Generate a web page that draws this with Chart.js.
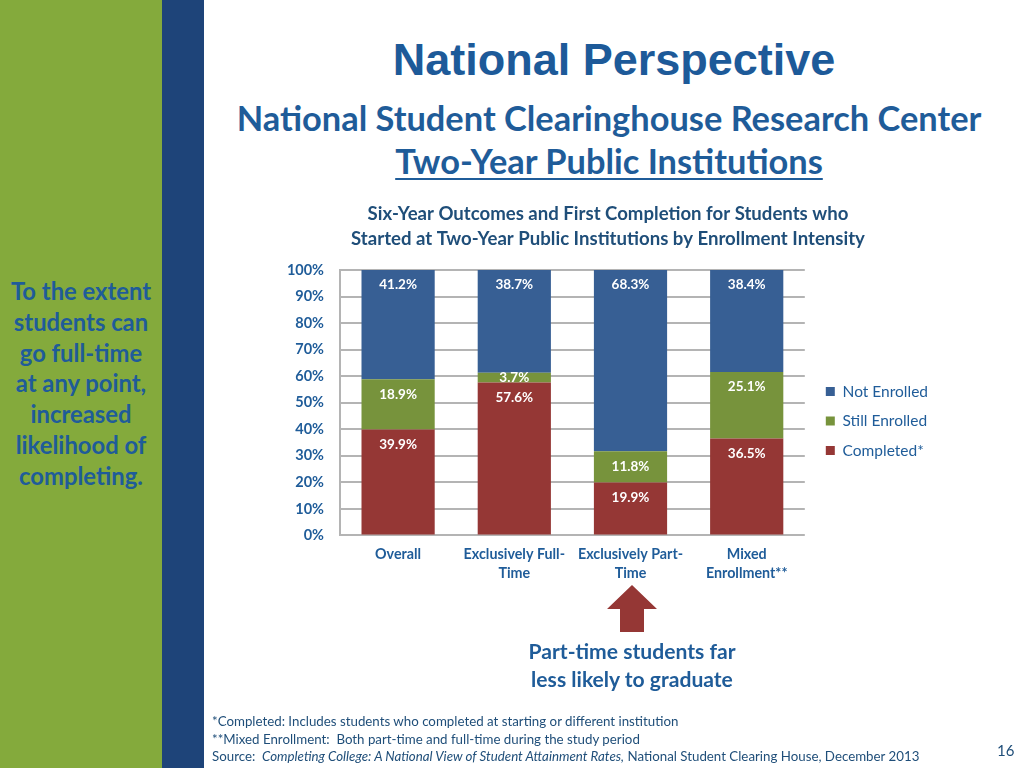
<!DOCTYPE html>
<html>
<head>
<meta charset="utf-8">
<script src="https://cdn.jsdelivr.net/npm/chart.js@4"></script>
<style>
  html, body { margin: 0; padding: 0; }
  body { width: 1024px; height: 768px; position: relative; background: #fff; overflow: hidden; font-family: Lato, "Open Sans", sans-serif; }
  .green { position: absolute; left: 0; top: 0; width: 162px; height: 768px; background: #84aa3c; }
  .stripe { position: absolute; left: 162px; top: 0; width: 42px; height: 768px; background: #1e4479; }
  .side { position: absolute; left: 0; top: 276px; width: 162px; text-align: center; color: #1f5c99; font-weight: bold; font-size: 23.8px; line-height: 30.8px; }
  .t1 { position: absolute; left: 214px; width: 800px; top: 34px; text-align: center; font-family: "Liberation Sans", Arial, sans-serif; font-weight: bold; font-size: 45px; color: #1d5a99; }
  .t2 { position: absolute; left: 209px; width: 800px; top: 97px; text-align: center; font-weight: bold; font-size: 34.4px; color: #1f5c99; }
  .t3 { position: absolute; left: 209px; width: 800px; top: 140px; text-align: center; font-weight: bold; font-size: 34.4px; color: #1f5c99; }
  .t3 span { text-decoration: underline; text-decoration-thickness: 2px; text-underline-offset: 4px; }
  #box { position: absolute; left: 270px; top: 196px; width: 680px; height: 388px; }
  .note { position: absolute; left: 522px; width: 220px; top: 637px; text-align: center; color: #1f5c99; font-weight: bold; font-size: 21.1px; line-height: 28px; }
  .foot { position: absolute; left: 212px; top: 713px; color: #1f4e79; font-size: 13.3px; line-height: 17.5px; }
  .pg { position: absolute; left: 997px; top: 741px; color: #1f4e79; font-size: 15px; }
  svg { position: absolute; left: 0; top: 0; }
</style>
</head>
<body>
<div class="green"></div>
<div class="stripe"></div>
<div class="side">To the extent<br>students can<br>go full-time<br>at any point,<br>increased<br>likelihood of<br>completing.</div>
<div class="t1">National Perspective</div>
<div class="t2">National Student Clearinghouse Research Center</div>
<div class="t3"><span>Two-Year Public Institutions</span></div>
<div id="box"><canvas id="barChart"></canvas></div>
<svg width="1024" height="768"><polygon points="607,609 632,585 657,609 644,609 644,632 620,632 620,609" fill="#953735"/></svg>
<div class="note">Part-time students far<br>less likely to graduate</div>
<div class="foot">*Completed: Includes students who completed at starting or different institution<br>**Mixed Enrollment:&nbsp; Both part-time and full-time during the study period<br>Source:&nbsp; <i>Completing College: A National View of Student Attainment Rates,</i> National Student Clearing House, December 2013</div>
<div class="pg">16</div>
<script>
const categories = ["Overall", ["Exclusively Full-", "Time"], ["Exclusively Part-", "Time"], ["Mixed", "Enrollment**"]];
const completed = [39.9, 57.6, 19.9, 36.5];
const stillEnrolled = [18.9, 3.7, 11.8, 25.1];
const notEnrolled = [41.2, 38.7, 68.3, 38.4];
const yTicks = [0, 10, 20, 30, 40, 50, 60, 70, 80, 90, 100];

const textBlue = "#1f5c99";

// value labels sit near the top of each segment
const barLabels = {
  id: "barLabels",
  afterDatasetsDraw(chart) {
    const ctx = chart.ctx;
    ctx.save();
    ctx.fillStyle = "#ffffff";
    ctx.font = "bold 13.5px Lato";
    ctx.textAlign = "center";
    ctx.textBaseline = "middle";
    chart.data.datasets.forEach((ds, i) => {
      chart.getDatasetMeta(i).data.forEach((bar, j) => {
        const top = Math.min(bar.y, bar.base);
        const bottom = Math.max(bar.y, bar.base);
        const y = Math.min(top + 15, (top + bottom) / 2);
        ctx.fillText(ds.data[j].toFixed(1) + "%", bar.x, y);
      });
    });
    ctx.restore();
  }
};

// nudge the legend a little away from the plot
const legendShift = {
  id: "legendShift",
  afterLayout(chart) {
    chart.legend.left += 7;
    chart.legend.right += 7;
  }
};

const ctx = document.getElementById("barChart").getContext("2d");
const barChart = new Chart(ctx, {
  type: "bar",
  data: {
    labels: categories,
    datasets: [
      { label: "Completed*", data: completed, backgroundColor: "#953735" },
      { label: "Still Enrolled", data: stillEnrolled, backgroundColor: "#77933c" },
      { label: "Not Enrolled", data: notEnrolled, backgroundColor: "#375f94" }
    ].map(d => Object.assign(d, { barPercentage: 0.63, categoryPercentage: 1 }))
  },
  options: {
    responsive: true,
    maintainAspectRatio: false,
    animation: false,
    layout: { padding: { left: 15, right: 19, top: 0, bottom: 0 } },
    plugins: {
      tooltip: { enabled: false },
      title: {
        display: true,
        text: ["Six-Year Outcomes and First Completion for Students who", "Started at Two-Year Public Institutions by Enrollment Intensity"],
        color: "#1f4e79",
        font: { family: "Lato", size: 18.6, weight: "bold", lineHeight: 1.345 },
        padding: { top: 5.5, bottom: 18.5 }
      },
      legend: {
        position: "right",
        reverse: true,
        title: { display: true, text: " ", font: { size: 1, lineHeight: 1 }, padding: { top: 61, bottom: 0 } },
        labels: {
          boxWidth: 9,
          boxHeight: 9,
          padding: 14,
          color: textBlue,
          font: { family: "Lato", size: 15.5 }
        }
      }
    },
    scales: {
      x: {
        stacked: true,
        grid: { display: false },
        border: { display: false },
        ticks: {
          color: textBlue,
          maxRotation: 0,
          padding: 1,
          font: { family: "Lato", size: 14.3, weight: "bold", lineHeight: 1.35 }
        }
      },
      y: {
        stacked: true,
        min: 0,
        max: 100,
        afterFit: scale => { scale.width = 55; },
        afterBuildTicks: scale => { scale.ticks = yTicks.map(v => ({ value: v })); },
        grid: { color: "#b4b4b4", lineWidth: 2, drawTicks: false },
        border: { color: "#b4b4b4", width: 2 },
        ticks: {
          color: textBlue,
          padding: 16,
          callback: v => v + "%",
          font: { family: "Lato", size: 14.5, weight: "bold" }
        }
      }
    }
  },
  plugins: [barLabels, legendShift]
});
</script>
</body>
</html>
